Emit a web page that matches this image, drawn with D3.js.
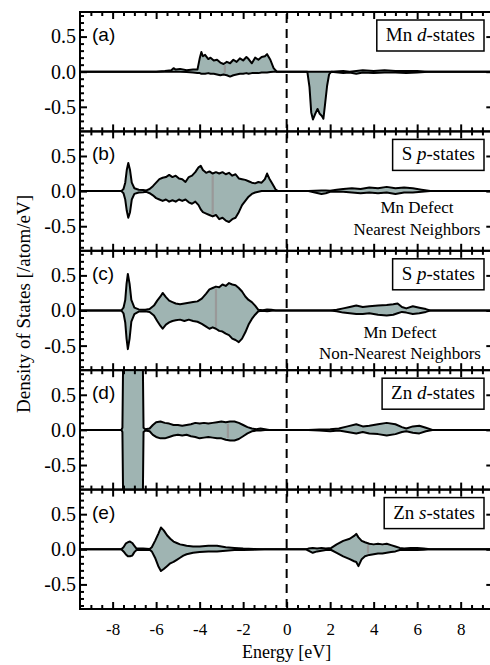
<!DOCTYPE html>
<html>
<head>
<meta charset="utf-8">
<script src="https://cdn.jsdelivr.net/npm/d3@7"></script>
<style>
  body { margin: 0; background: #fff; }
  svg { display: block; }
</style>
</head>
<body>
<svg id="chart" width="490" height="665"></svg>
<script>
// rows are [energy eV, spin-up DOS, spin-down DOS]
const mnD = [
  [-9.5,0,0],[-6.0,0,0],[-5.6,0.01,0],[-5.3,0.02,0],[-5.2,0.05,0],[-5.1,0.03,0],[-4.9,0.04,0],
  [-4.6,0.02,-0.005],[-4.3,0.03,-0.01],[-4.1,0.03,-0.02],[-3.99,0.2,-0.02],[-3.92,0.28,-0.03],
  [-3.85,0.22,-0.03],[-3.75,0.24,-0.03],[-3.6,0.18,-0.02],[-3.5,0.2,-0.03],[-3.35,0.16,-0.03],
  [-3.2,0.17,-0.04],[-3.05,0.13,-0.05],[-2.9,0.11,-0.04],[-2.75,0.14,-0.05],[-2.6,0.12,-0.07],
  [-2.45,0.17,-0.05],[-2.3,0.14,-0.04],[-2.15,0.19,-0.03],[-2.0,0.16,-0.03],[-1.85,0.21,-0.02],
  [-1.75,0.18,-0.03],[-1.6,0.12,-0.02],[-1.45,0.2,-0.02],[-1.3,0.17,-0.02],[-1.15,0.21,-0.01],
  [-1.0,0.22,-0.01],[-0.9,0.25,-0.01],[-0.75,0.17,-0.005],[-0.6,0.05,0],[-0.45,0,0],
  [0.95,0,0],[1.05,0,-0.22],[1.13,0,-0.58],[1.21,0,-0.68],[1.3,0,-0.61],[1.42,0,-0.53],
  [1.52,0,-0.6],[1.62,0,-0.63],[1.69,0,-0.67],[1.77,0,-0.45],[1.86,0,-0.2],[1.95,0,-0.04],[2.05,0,0],
  [2.6,0.01,-0.02],[2.9,0,-0.01],[3.2,0.01,-0.03],[3.5,0.02,-0.01],[4.0,0.01,-0.02],[4.5,0.02,-0.01],
  [5.0,0.01,-0.01],[5.5,0.01,-0.02],[6.0,0.01,-0.01],[6.5,0,0],[9.5,0,0]
];
const sPNear = [
  [-9.5,0,0],[-7.6,0,0],[-7.5,0.03,-0.03],[-7.42,0.12,-0.12],[-7.35,0.3,-0.28],[-7.28,0.4,-0.38],
  [-7.2,0.3,-0.3],[-7.12,0.12,-0.12],[-7.0,0.04,-0.04],[-6.8,0.02,-0.02],[-6.6,0.015,-0.015],
  [-6.45,0.01,-0.01],[-6.3,0.03,-0.03],[-6.15,0.07,-0.06],[-6.0,0.12,-0.1],[-5.85,0.17,-0.12],
  [-5.7,0.19,-0.14],[-5.55,0.2,-0.12],[-5.4,0.23,-0.15],[-5.25,0.2,-0.13],[-5.1,0.22,-0.15],
  [-4.95,0.18,-0.12],[-4.8,0.17,-0.14],[-4.65,0.13,-0.12],[-4.5,0.2,-0.16],[-4.35,0.22,-0.18],
  [-4.2,0.27,-0.15],[-4.05,0.34,-0.2],[-3.95,0.36,-0.26],[-3.85,0.3,-0.3],[-3.7,0.26,-0.32],
  [-3.55,0.28,-0.34],[-3.4,0.25,-0.36],[-3.25,0.27,-0.34],[-3.1,0.25,-0.4],[-2.95,0.27,-0.38],
  [-2.8,0.24,-0.42],[-2.65,0.26,-0.44],[-2.5,0.22,-0.4],[-2.35,0.24,-0.38],[-2.2,0.18,-0.3],
  [-2.05,0.17,-0.2],[-1.9,0.16,-0.14],[-1.75,0.14,-0.08],[-1.6,0.12,-0.04],[-1.45,0.11,-0.02],
  [-1.3,0.13,-0.01],[-1.15,0.12,0],[-1.0,0.17,0],[-0.9,0.25,0],[-0.8,0.18,0],[-0.65,0.1,0],
  [-0.5,0.02,0],[-0.4,0,0],[1.0,0,0],[1.3,0.005,-0.02],[1.6,0.01,-0.04],[1.8,0.01,-0.03],
  [2.0,0.005,-0.01],[2.3,0.02,-0.005],[2.6,0.03,-0.01],[3.0,0.04,-0.02],[3.4,0.03,-0.03],
  [3.8,0.05,-0.02],[4.2,0.04,-0.03],[4.6,0.06,-0.02],[5.0,0.04,-0.04],[5.4,0.05,-0.02],
  [5.8,0.04,-0.02],[6.2,0.02,-0.01],[6.6,0,0],[9.5,0,0]
];
const sPFar = [
  [-9.5,0,0],[-7.6,0,0],[-7.5,0.04,-0.04],[-7.42,0.15,-0.17],[-7.36,0.38,-0.4],[-7.3,0.52,-0.55],
  [-7.22,0.38,-0.4],[-7.14,0.15,-0.16],[-7.0,0.04,-0.05],[-6.8,0.015,-0.015],[-6.5,0.01,-0.01],
  [-6.3,0.02,-0.02],[-6.1,0.07,-0.07],[-5.95,0.14,-0.15],[-5.8,0.2,-0.22],[-5.7,0.25,-0.26],
  [-5.55,0.19,-0.2],[-5.4,0.14,-0.17],[-5.25,0.12,-0.15],[-5.1,0.1,-0.14],[-4.9,0.09,-0.13],
  [-4.7,0.1,-0.15],[-4.5,0.11,-0.13],[-4.3,0.12,-0.15],[-4.1,0.13,-0.16],[-3.9,0.17,-0.19],
  [-3.7,0.24,-0.23],[-3.55,0.3,-0.26],[-3.4,0.32,-0.24],[-3.25,0.34,-0.26],[-3.1,0.33,-0.29],
  [-2.95,0.37,-0.3],[-2.8,0.35,-0.33],[-2.65,0.39,-0.35],[-2.5,0.37,-0.4],[-2.35,0.36,-0.42],
  [-2.2,0.32,-0.45],[-2.05,0.27,-0.4],[-1.9,0.2,-0.31],[-1.75,0.15,-0.2],[-1.6,0.12,-0.12],
  [-1.45,0.07,-0.06],[-1.3,0.01,-0.01],[-1.1,0.005,-0.005],[-0.9,0.015,-0.01],[-0.7,0.01,-0.005],
  [-0.5,0,0],[2.0,0,0],[2.3,0.01,-0.01],[2.6,0.03,-0.03],[2.9,0.05,-0.04],[3.2,0.07,-0.05],
  [3.5,0.05,-0.05],[3.8,0.06,-0.04],[4.2,0.07,-0.06],[4.6,0.08,-0.07],[4.9,0.09,-0.06],
  [5.1,0.1,-0.04],[5.3,0.05,-0.02],[5.5,0.03,-0.03],[5.8,0.06,-0.05],[6.1,0.04,-0.04],
  [6.4,0.02,-0.02],[6.6,0,0],[9.5,0,0]
];
const znD = [
  [-9.5,0,0],[-7.6,0,0],[-7.55,0.03,-0.03],[-7.5,1.5,-1.5],[-7.45,4,-4],[-7.0,6,-6],[-6.7,4,-4],
  [-6.63,1.5,-1.5],[-6.58,0.03,-0.03],[-6.5,0.01,-0.01],[-6.3,0.02,-0.02],[-6.15,0.07,-0.07],
  [-6.0,0.11,-0.1],[-5.8,0.12,-0.12],[-5.6,0.1,-0.12],[-5.4,0.09,-0.1],[-5.2,0.07,-0.08],
  [-5.0,0.07,-0.07],[-4.8,0.06,-0.08],[-4.6,0.07,-0.07],[-4.4,0.08,-0.09],[-4.2,0.1,-0.1],
  [-4.0,0.09,-0.12],[-3.8,0.1,-0.11],[-3.6,0.09,-0.1],[-3.4,0.1,-0.11],[-3.2,0.11,-0.12],
  [-3.0,0.12,-0.12],[-2.8,0.11,-0.14],[-2.6,0.12,-0.15],[-2.4,0.12,-0.15],[-2.2,0.1,-0.13],
  [-2.0,0.07,-0.09],[-1.8,0.04,-0.05],[-1.6,0.02,-0.02],[-1.4,0.01,-0.01],[-1.2,0.02,-0.01],
  [-1.0,0.01,0],[-0.8,0,0],[1.0,0,0],[1.5,0.005,-0.01],[2.0,0.01,-0.02],[2.4,0.02,-0.01],
  [2.8,0.05,-0.03],[3.2,0.08,-0.05],[3.5,0.05,-0.03],[3.8,0.06,-0.05],[4.2,0.08,-0.06],
  [4.6,0.1,-0.08],[5.0,0.08,-0.06],[5.3,0.04,-0.03],[5.5,0.02,-0.02],[5.8,0.05,-0.04],
  [6.1,0.06,-0.05],[6.4,0.03,-0.02],[6.7,0,0],[9.5,0,0]
];
const znS = [
  [-9.5,0,0],[-7.6,0,0],[-7.5,0.03,-0.03],[-7.4,0.08,-0.07],[-7.3,0.1,-0.1],[-7.2,0.11,-0.1],
  [-7.1,0.09,-0.09],[-7.0,0.05,-0.04],[-6.9,0.01,-0.01],[-6.6,0.01,-0.01],[-6.3,0.005,-0.005],
  [-6.2,0.03,-0.03],[-6.05,0.12,-0.12],[-5.9,0.22,-0.24],[-5.78,0.31,-0.31],[-5.65,0.27,-0.28],
  [-5.5,0.2,-0.24],[-5.35,0.15,-0.2],[-5.2,0.11,-0.18],[-5.05,0.09,-0.15],[-4.9,0.07,-0.12],
  [-4.75,0.06,-0.09],[-4.6,0.05,-0.07],[-4.3,0.04,-0.05],[-4.0,0.04,-0.04],[-3.6,0.05,-0.03],
  [-3.2,0.05,-0.03],[-2.8,0.03,-0.02],[-2.4,0.02,-0.01],[-2.0,0.01,-0.01],[-1.5,0.005,-0.005],
  [-1.0,0,0],[0.9,0,0],[1.0,0.01,-0.02],[1.2,0.02,-0.05],[1.4,0.01,-0.03],[1.6,0.02,-0.02],
  [1.8,0.01,-0.01],[2.05,0.02,-0.01],[2.3,0.07,-0.05],[2.6,0.12,-0.1],[2.9,0.15,-0.14],
  [3.1,0.19,-0.17],[3.2,0.22,-0.18],[3.3,0.17,-0.24],[3.45,0.12,-0.14],[3.6,0.1,-0.1],
  [3.8,0.08,-0.08],[4.0,0.07,-0.07],[4.2,0.08,-0.06],[4.4,0.07,-0.06],[4.6,0.08,-0.05],
  [4.8,0.06,-0.04],[5.0,0.04,-0.03],[5.2,0.02,-0.01],[5.4,0.01,-0.01],[5.7,0.02,-0.01],
  [6.0,0.02,-0.01],[6.3,0.01,-0.005],[6.6,0,0],[9.5,0,0]
];

const panelData = [mnD, sPNear, sPFar, znD, znS];
const panelTags = ["(a)", "(b)", "(c)", "(d)", "(e)"];
// box label: [plain, italic, plain]
const boxLabels = [
  ["Mn ", "d", "-states"],
  ["S ", "p", "-states"],
  ["S ", "p", "-states"],
  ["Zn ", "d", "-states"],
  ["Zn ", "s", "-states"]
];
// grey seam line visible inside the fill
const seamEnergy = [-2.84, -3.4, -3.25, -2.7, 3.74];
const xTickLabels = [-8, -6, -4, -2, 0, 2, 4, 6, 8];
const yTickLabels = [-0.5, 0, 0.5];

const left = 80, right = 493.3, top0 = 12, panelH = 119.4;
const nPanels = panelData.length;
const bottom = top0 + nPanels * panelH;
const fillColor = "#9fb4b2";
const serif = "'Liberation Serif','Times New Roman',serif";
const sans = "'Liberation Sans',Arial,sans-serif";

const svg = d3.select("#chart");
const x = d3.scaleLinear().domain([-9.5, 9.5]).range([left, right]);
const minorX = d3.range(-9, 9.5, 0.5).filter(v => v % 2 !== 0);
const minorY = d3.range(-8, 9).map(v => v / 10).filter(v => Math.abs(v) !== 0.5 && v !== 0);

function interp(rows, e, k) {
  for (let i = 1; i < rows.length; i++) {
    if (rows[i][0] >= e) {
      const a = rows[i - 1], b = rows[i];
      const t = (e - a[0]) / (b[0] - a[0]);
      return a[k] + t * (b[k] - a[k]);
    }
  }
  return 0;
}

panelData.forEach((rows, i) => {
  const t = top0 + i * panelH;
  const y = d3.scaleLinear().domain([-0.85, 0.85]).range([t + panelH, t]);
  const g = svg.append("g");

  svg.append("clipPath").attr("id", "clip" + i)
    .append("rect").attr("x", left).attr("y", t)
    .attr("width", right - left).attr("height", panelH);

  const body = g.append("g").attr("clip-path", "url(#clip" + i + ")");

  const area = d3.area().x(d => x(d[0])).y0(d => y(d[2])).y1(d => y(d[1]));
  body.append("path").attr("d", area(rows)).attr("fill", fillColor);

  // the seam
  const se = seamEnergy[i];
  body.append("line")
    .attr("x1", x(se)).attr("x2", x(se))
    .attr("y1", y(interp(rows, se, 1)) + 2).attr("y2", y(interp(rows, se, 2)) - 2)
    .attr("stroke", "#999").attr("stroke-width", 2.2);

  [1, 2].forEach(k => {
    const line = d3.line().x(d => x(d[0])).y(d => y(d[k]));
    body.append("path").attr("d", line(rows))
      .attr("fill", "none").attr("stroke", "#000")
      .attr("stroke-width", 2).attr("stroke-linejoin", "round");
  });

  // ticks
  const tickStyle = sel => {
    sel.select(".domain").remove();
    sel.selectAll(".tick line").attr("stroke", "#000").attr("stroke-width", 2);
  };
  g.append("g").attr("transform", `translate(0,${t})`)
    .call(d3.axisTop(x).tickValues(minorX).tickSize(-4).tickFormat("")).call(tickStyle);
  g.append("g").attr("transform", `translate(0,${t})`)
    .call(d3.axisTop(x).tickValues(xTickLabels).tickSize(-7).tickFormat("")).call(tickStyle);
  g.append("g").attr("transform", `translate(0,${t + panelH})`)
    .call(d3.axisBottom(x).tickValues(minorX).tickSize(-4).tickFormat("")).call(tickStyle);
  const xb = g.append("g").attr("transform", `translate(0,${t + panelH})`)
    .call(d3.axisBottom(x).tickValues(xTickLabels).tickSize(-7).tickPadding(14)
      .tickFormat(i === nPanels - 1 ? (d => String(d)) : "")).call(tickStyle);
  xb.selectAll("text").attr("font-family", serif).attr("font-size", 17).attr("fill", "#000");

  g.append("g").attr("transform", `translate(${left},0)`)
    .call(d3.axisLeft(y).tickValues(minorY).tickSize(-4).tickFormat("")).call(tickStyle);
  const yl = g.append("g").attr("transform", `translate(${left},0)`)
    .call(d3.axisLeft(y).tickValues(yTickLabels).tickSize(-7).tickPadding(4)
      .tickFormat(d => d.toFixed(1))).call(tickStyle);
  yl.selectAll("text").attr("font-family", serif).attr("font-size", 20).attr("fill", "#000");
  g.append("g").attr("transform", `translate(${right},0)`)
    .call(d3.axisRight(y).tickValues(yTickLabels).tickSize(-7).tickFormat("")).call(tickStyle);

  // frame
  g.append("rect").attr("x", left).attr("y", t)
    .attr("width", right - left).attr("height", panelH)
    .attr("fill", "none").attr("stroke", "#000").attr("stroke-width", 2);

  g.append("text").attr("x", 92).attr("y", t + 29)
    .attr("font-family", sans).attr("font-size", 19).text(panelTags[i]);

  // label box
  const box = g.append("g");
  const lt = box.append("text").attr("y", t + 29)
    .attr("font-family", serif).attr("font-size", 19).attr("text-anchor", "middle");
  boxLabels[i].forEach((s, k) => {
    lt.append("tspan").attr("font-style", k === 1 ? "italic" : "normal").text(s);
  });
  const w = lt.node().getComputedTextLength() + 18;
  const bx = 484 - w;
  lt.attr("x", bx + w / 2);
  box.insert("rect", "text").attr("x", bx).attr("y", t + 8)
    .attr("width", w).attr("height", 31)
    .attr("fill", "#fff").attr("stroke", "#000").attr("stroke-width", 1.5);
});

// Fermi level
svg.append("line")
  .attr("x1", x(0)).attr("x2", x(0)).attr("y1", top0 + 2).attr("y2", bottom - 2)
  .attr("stroke", "#000").attr("stroke-width", 2).attr("stroke-dasharray", "9,6");

// defect notes
const notes = [
  { cx: 417, y1: 213, y2: 235, lines: ["Mn Defect", "Nearest Neighbors"] },
  { cx: 400, y1: 338, y2: 359, lines: ["Mn Defect", "Non-Nearest Neighbors"] }
];
notes.forEach(n => {
  [n.y1, n.y2].forEach((yy, k) => {
    svg.append("text").attr("x", n.cx).attr("y", yy)
      .attr("text-anchor", "middle").attr("font-family", serif).attr("font-size", 17)
      .text(n.lines[k]);
  });
});

svg.append("text")
  .attr("transform", `translate(30,304) rotate(-90)`)
  .attr("text-anchor", "middle").attr("font-family", serif).attr("font-size", 19)
  .text("Density of States [/atom/eV]");

svg.append("text").attr("x", x(0)).attr("y", 658)
  .attr("text-anchor", "middle").attr("font-family", serif).attr("font-size", 18)
  .text("Energy [eV]");
</script>
</body>
</html>
